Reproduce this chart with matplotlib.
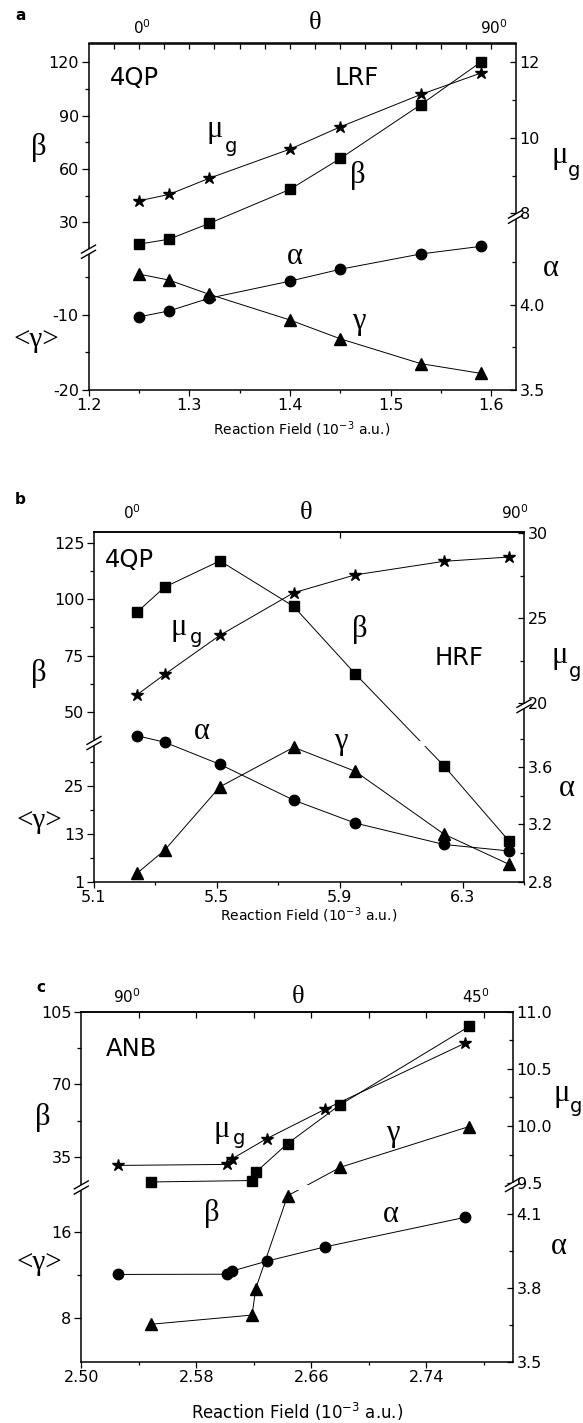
import numpy as np
import matplotlib
matplotlib.use('Agg')
import matplotlib.pyplot as plt
from matplotlib.lines import Line2D
from matplotlib.patches import Rectangle
from matplotlib.ticker import FixedLocator, NullLocator

# ---------------- data ----------------
a_x = [1.25, 1.28, 1.32, 1.40, 1.45, 1.53, 1.59]
a_beta = [17.7, 20.5, 29.4, 48.5, 65.9, 96.2, 120.3]
a_mu = [8.33, 8.50, 8.93, 9.70, 10.29, 11.15, 11.72]
a_alpha = [3.93, 3.965, 4.04, 4.14, 4.21, 4.30, 4.345]
a_gamma = [-4.6, -5.4, -7.3, -10.7, -13.2, -16.5, -17.8]

b_x = [5.24, 5.33, 5.51, 5.75, 5.95, 6.24, 6.45]
b_beta = [94.3, 105.5, 117.2, 96.9, 66.9, 30.0, 11.3]
b_mu = [20.5, 21.7, 24.0, 26.5, 27.55, 28.35, 28.6]
b_alpha = [3.82, 3.775, 3.62, 3.37, 3.21, 3.06, 3.015]
b_gamma = [3.1, 8.9, 24.8, 34.7, 28.7, 12.9, 5.4]

c_x_mu = [2.5254, 2.6015, 2.6050, 2.6290, 2.6694, 2.7667]
c_mu = [9.656, 9.665, 9.715, 9.89, 10.146, 10.723]
c_alpha = [3.855, 3.856, 3.869, 3.909, 3.967, 4.087]
c_x_beta = [2.5483, 2.6188, 2.6214, 2.6435, 2.6803, 2.7698]
c_beta = [23.0, 23.7, 27.7, 41.5, 60.3, 97.9]
c_gamma = [7.45, 8.3, 10.75, 19.3, 30.1, 49.7]

# ---------------- setup ----------------
W, H = 583, 1423
plt.rcParams['font.family'] = ['DejaVu Sans']
plt.rcParams['mathtext.fontset'] = 'dejavusans'
SANS = 'DejaVu Sans'
SERIF = 'Liberation Serif'
fig = plt.figure(figsize=(W / 100, H / 100), dpi=100)


def lin(v, xp, fp):
    v = np.asarray(v, float)
    out = np.interp(v, xp, fp)
    s0 = (fp[1] - fp[0]) / (xp[1] - xp[0])
    s1 = (fp[-1] - fp[-2]) / (xp[-1] - xp[-2])
    out = np.where(v < xp[0], fp[0] + (v - xp[0]) * s0, out)
    out = np.where(v > xp[-1], fp[-1] + (v - xp[-1]) * s1, out)
    return out


def funcs(vals, pix):
    vals = np.asarray(vals, float)
    pix = np.asarray(pix, float)
    return (lambda v: lin(v, vals, pix)), (lambda u: lin(u, pix, vals))


def T(x, y, s, size, family=SANS, **kw):
    kw.setdefault('ha', 'center')
    kw.setdefault('va', 'center')
    fig.text(x / W, 1 - y / H, s, fontsize=size, family=family, **kw)


def add_break(xpx, ypx):
    fig.add_artist(Rectangle(((xpx - 3) / W, 1 - (ypx + 2.5) / H), 6 / W, 5 / H,
                             transform=fig.transFigure, facecolor='white',
                             edgecolor='none', zorder=5))
    for d in (-2.6, 2.6):
        x0, y0 = xpx - 7, ypx + d + 4
        x1, y1 = xpx + 7, ypx + d - 4
        fig.add_artist(Line2D([x0 / W, x1 / W], [1 - y0 / H, 1 - y1 / H],
                              transform=fig.transFigure, color='black', lw=1.0,
                              zorder=6))


def panel(box, xlim, xmaj, xlab, xmin, toptick,
          lvals, lpix, lmaj, llab, lmin,
          rvals, rpix, rmaj, rlab, rmin, lbreak, rbreak):
    L, R, Tp, B = box
    hp = B - Tp
    ax = fig.add_axes([L / W, 1 - B / H, (R - L) / W, hp / H])
    ax.set_yscale('function', functions=funcs(lvals, lpix))
    ax.set_ylim(lvals[0], lvals[-1])
    ax.set_xlim(*xlim)
    ax2 = ax.twinx()
    ax2.set_yscale('function', functions=funcs(rvals, rpix))
    ax2.set_ylim(rvals[0], rvals[-1])
    for s in ax2.spines.values():
        s.set_visible(False)
    for s in ax.spines.values():
        s.set_linewidth(1.1)
    ax.set_xticks(xmaj, labels=xlab)
    ax.xaxis.set_minor_locator(FixedLocator(xmin))
    ax.set_yticks(lmaj, labels=llab)
    ax.yaxis.set_minor_locator(FixedLocator(lmin))
    ax2.set_yticks(rmaj, labels=rlab)
    ax2.yaxis.set_minor_locator(FixedLocator(rmin))
    ax.tick_params(axis='x', which='major', direction='out', length=4, width=0.9,
                   labelsize=11.5, pad=2, top=False)
    ax.tick_params(axis='x', which='minor', direction='out', length=2.5, width=0.9, top=False)
    ax.tick_params(axis='y', which='major', direction='out', length=5, width=0.9,
                   labelsize=11.5, pad=2)
    ax.tick_params(axis='y', which='minor', direction='out', length=3, width=0.9)
    ax2.tick_params(axis='y', which='major', direction='in', length=4, width=0.9,
                    labelsize=11.5, pad=3)
    ax2.tick_params(axis='y', which='minor', direction='in', length=3, width=0.9)
    sec = ax.secondary_xaxis('top')
    sec.set_xticks(toptick, labels=[''] * len(toptick))
    sec.xaxis.set_minor_locator(NullLocator())
    sec.tick_params(direction='in', length=4, width=0.9)
    sec.spines['top'].set_linewidth(1.1)
    # line gap band at left break
    yf = (B - lbreak) / hp
    ax.add_patch(Rectangle((0.004, yf - 2.5 / hp), 0.992, 5 / hp, transform=ax.transAxes,
                           facecolor='white', edgecolor='none', zorder=2.4))
    add_break(L, lbreak)
    add_break(R, rbreak)
    return ax, ax2


def series(axx, x, y, marker, ms):
    axx.plot(x, y, color='black', lw=0.7, zorder=2, clip_on=False)
    axx.plot(x, y, ls='none', marker=marker, ms=ms, color='black', zorder=3,
             clip_on=False)


MS = {'s': 7, 'o': 7.5, '^': 8.5, '*': 9}

# ---------------- panel a ----------------
axa, axa2 = panel(
    (88.5, 515.5, 43.5, 390), (1.2, 1.624),
    [1.2, 1.3, 1.4, 1.5, 1.6], ['1.2', '1.3', '1.4', '1.5', '1.6'],
    [1.25, 1.35, 1.45, 1.55], list(np.arange(1.225, 1.624, 0.025)),
    [-20, -1.63, 13.46, 130.6], [0, 138.3, 138.31, 346.5],
    [-20, -10, 30, 60, 90, 120], ['-20', '-10', '30', '60', '90', '120'],
    [-15, -5, 45, 75, 105],
    [3.5, 4.519, 7.91, 12.5], [0, 173.3, 173.31, 346.5],
    [3.5, 4.0, 8, 10, 12], ['3.5', '4.0', '8', '10', '12'], [3.75, 4.25, 9, 11],
    251.7, 216.7)
series(axa, a_x, a_beta, 's', MS['s'])
series(axa, a_x, a_gamma, '^', MS['^'])
series(axa2, a_x, a_mu, '*', MS['*'])
series(axa2, a_x, a_alpha, 'o', MS['o'])

# ---------------- panel b ----------------
axb, axb2 = panel(
    (94, 524, 531.7, 881.7), (5.1, 6.5),
    [5.1, 5.5, 5.9, 6.3], ['5.1', '5.5', '5.9', '6.3'],
    [5.3, 5.7, 6.1, 6.5], [5.9],
    [1, 35.5, 130.2], [0, 137.6, 350],
    [1, 13, 25, 50, 75, 100, 125], ['1', '13', '25', '50', '75', '100', '125'],
    [7, 19, 31, 62.5, 87.5, 112.5],
    [2.8, 4.03, 19.86, 30.09], [0, 176, 176.01, 350],
    [2.8, 3.2, 3.6, 20, 25, 30], ['2.8', '3.2', '3.6', '20', '25', '30'],
    [3.0, 3.4, 3.8, 22.5, 27.5],
    743, 706)
series(axb, b_x, b_beta, 's', MS['s'])
series(axb, b_x, b_gamma, '^', MS['^'])
series(axb2, b_x, b_mu, '*', MS['*'])
series(axb2, b_x, b_alpha, 'o', MS['o'])

# ---------------- panel c ----------------
axc, axc2 = panel(
    (81.3, 512.5, 1011.7, 1361.7), (2.50, 2.80),
    [2.50, 2.58, 2.66, 2.74], ['2.50', '2.58', '2.66', '2.74'],
    [2.54, 2.62, 2.70, 2.78], [2.54, 2.58, 2.62, 2.66, 2.70, 2.74, 2.78],
    [4, 20, 105], [0, 173.5, 350],
    [8, 16, 35, 70, 105], ['8', '16', '35', '70', '105'], [12, 52.5, 87.5],
    [3.5, 4.219, 9.485, 11.0], [0, 176.7, 176.71, 350],
    [3.5, 3.8, 4.1, 9.5, 10.0, 10.5, 11.0],
    ['3.5', '3.8', '4.1', '9.5', '10.0', '10.5', '11.0'],
    [3.65, 3.95, 9.75, 10.25, 10.75],
    1187.5, 1185)
series(axc, c_x_beta, c_beta, 's', MS['s'])
series(axc, c_x_beta, c_gamma, '^', MS['^'])
series(axc2, c_x_mu, c_mu, '*', MS['*'])
series(axc2, c_x_mu, c_alpha, 'o', MS['o'])

# ---------------- texts ----------------
G = 22   # greek size
GG = 21  # <gamma> size
SUB = 14
XL = 'Reaction Field (10$^{-3}$ a.u.)'

# panel a
T(20.5, 15, 'a', 11, weight='bold')
T(141.7, 28, '0$^{0}$', 11)
T(494, 28, '90$^{0}$', 11)
T(315, 23, 'θ', 19, SERIF)
T(134.7, 78, '4QP', 17.5)
T(357, 78, 'LRF', 17.5)
T(214.5, 129, 'μ', G, SERIF); T(231, 147, 'g', SUB)
T(358, 175, 'β', G, SERIF)
T(294.7, 256, 'α', G, SERIF)
T(358.8, 322, 'γ', G, SERIF)
T(39, 148, 'β', G, SERIF)
T(36, 340, '<γ>', GG, SERIF)
T(559.5, 155, 'μ', G, SERIF); T(574, 170, 'g', SUB)
T(551, 268, 'α', G, SERIF)
T(302, 429, XL, 10)

# panel b
T(20.5, 500, 'b', 11, weight='bold')
T(132.4, 513, '0$^{0}$', 11)
T(514.7, 513, '90$^{0}$', 11)
T(305.9, 513, 'θ', 19, SERIF)
T(129.8, 560, '4QP', 17.5)
T(459.5, 658, 'HRF', 17.5)
T(178.3, 627, 'μ', G, SERIF); T(195.8, 638, 'g', SUB)
T(360, 629, 'β', G, SERIF)
T(202, 732, 'α', G, SERIF)
T(341.3, 741, 'γ', G, SERIF)
T(38.4, 673, 'β', G, SERIF)
T(39, 821, '<γ>', GG, SERIF)
T(560, 656, 'μ', G, SERIF); T(575, 672, 'g', SUB)
T(567, 789, 'α', G, SERIF)
T(309, 915, XL, 10)

# panel c
T(41, 988, 'c', 11, weight='bold')
T(126.8, 997, '90$^{0}$', 11)
T(475.6, 997, '45$^{0}$', 11)
T(298.4, 997, 'θ', 19, SERIF)
T(131.3, 1049, 'ANB', 17.5)
T(222, 1129, 'μ', G, SERIF); T(238.7, 1138, 'g', SUB)
T(211.5, 1213, 'β', G, SERIF)
T(392.4, 1133, 'γ', G, SERIF)
T(390.5, 1215, 'α', G, SERIF)
T(42.9, 1117, 'β', G, SERIF)
T(39, 1263, '<γ>', GG, SERIF)
T(561.4, 1094, 'μ', G, SERIF); T(576, 1107, 'g', SUB)
T(558.4, 1246, 'α', G, SERIF)
T(297, 1411.7, XL, 12)

fig.savefig('out.png', dpi=100)
